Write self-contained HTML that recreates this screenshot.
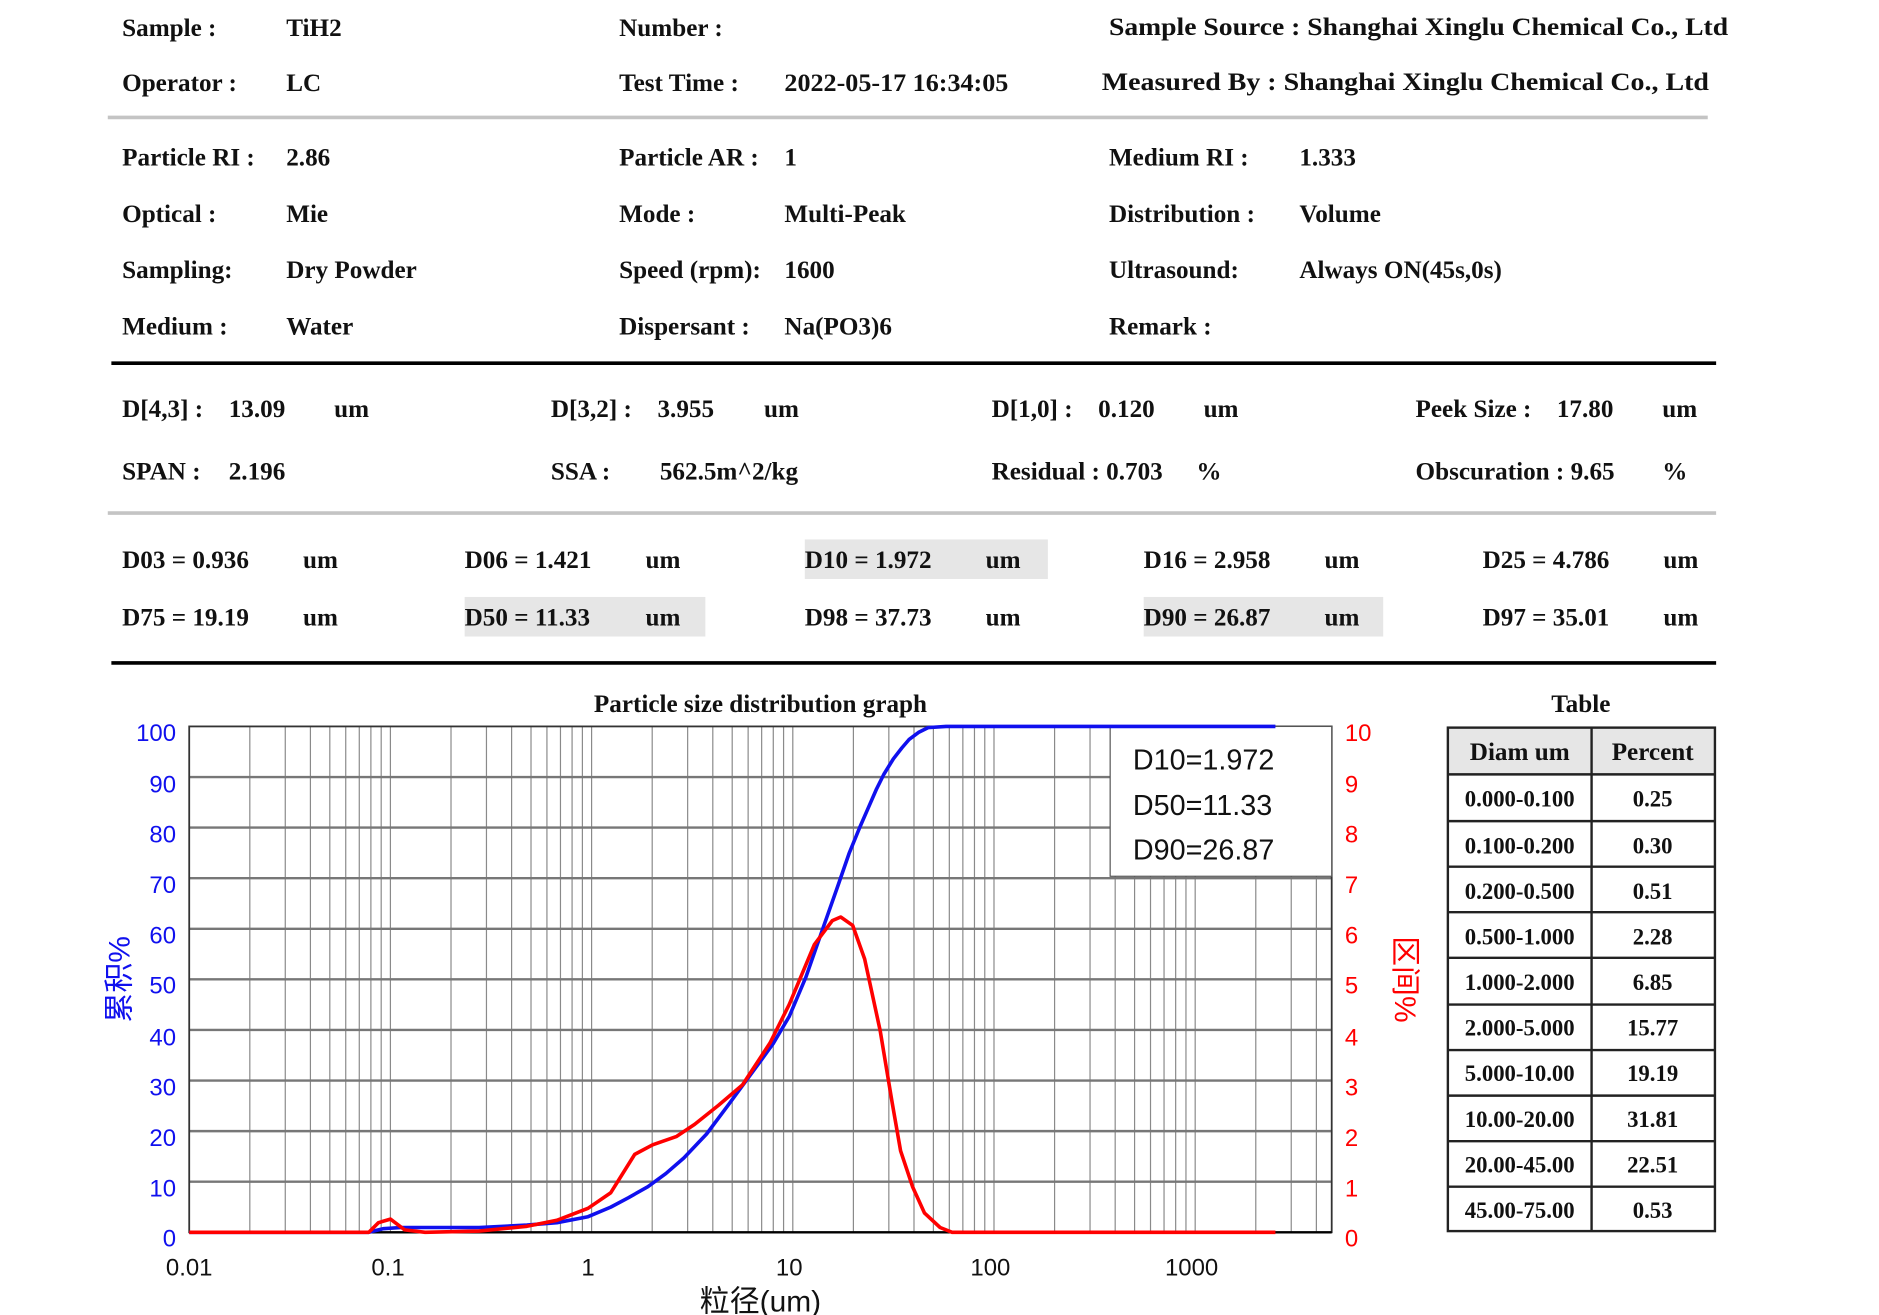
<!DOCTYPE html>
<html><head><meta charset="utf-8"><style>
html,body{margin:0;padding:0;background:#fff;}
svg{display:block;}
.t{font-family:"Liberation Serif","Noto Serif CJK SC",serif;font-weight:bold;font-size:21px;fill:#111;}
.a{font-family:"Liberation Sans","Noto Sans CJK SC",sans-serif;font-size:20px;}
</style></head><body>
<svg width="1879" height="1315" viewBox="0 0 1569 1097" preserveAspectRatio="none" xmlns="http://www.w3.org/2000/svg">
<rect width="1569" height="1097" fill="#fff"/>
<g class="t">
<text x="102" y="30">Sample :</text><text x="239" y="30">TiH2</text><text x="517" y="30">Number :</text>
<text x="926" y="29" textLength="517" lengthAdjust="spacingAndGlyphs">Sample Source : Shanghai Xinglu Chemical Co., Ltd</text>
<text x="102" y="76">Operator :</text><text x="239" y="76">LC</text><text x="517" y="76">Test Time :</text><text x="655" y="76" textLength="187" lengthAdjust="spacingAndGlyphs">2022-05-17   16:34:05</text>
<text x="920" y="75" textLength="507" lengthAdjust="spacingAndGlyphs">Measured By : Shanghai Xinglu Chemical Co., Ltd</text>
<text x="102" y="138">Particle RI :</text><text x="239" y="138">2.86</text><text x="517" y="138">Particle AR :</text><text x="655" y="138">1</text><text x="926" y="138">Medium RI :</text><text x="1085" y="138">1.333</text>
<text x="102" y="185">Optical :</text><text x="239" y="185">Mie</text><text x="517" y="185">Mode :</text><text x="655" y="185">Multi-Peak</text><text x="926" y="185">Distribution :</text><text x="1085" y="185">Volume</text>
<text x="102" y="232">Sampling:</text><text x="239" y="232">Dry Powder</text><text x="517" y="232">Speed (rpm):</text><text x="655" y="232">1600</text><text x="926" y="232">Ultrasound:</text><text x="1085" y="232">Always ON(45s,0s)</text>
<text x="102" y="279">Medium :</text><text x="239" y="279">Water</text><text x="517" y="279">Dispersant :</text><text x="655" y="279">Na(PO3)6</text><text x="926" y="279">Remark :</text>
</g>
<line x1="90" y1="98" x2="1426" y2="98" stroke="#c4c4c4" stroke-width="3"/>
<line x1="93" y1="303" x2="1433" y2="303" stroke="#000" stroke-width="3"/>
<rect x="672" y="450" width="203" height="33" fill="#e6e6e6"/>
<rect x="388" y="498" width="201" height="33" fill="#e6e6e6"/>
<rect x="955" y="498" width="200" height="33" fill="#e6e6e6"/>
<g class="t">
<text x="102" y="348">D[4,3] :</text><text x="191" y="348">13.09</text><text x="279" y="348">um</text>
<text x="460" y="348">D[3,2] :</text><text x="549" y="348">3.955</text><text x="638" y="348">um</text>
<text x="828" y="348">D[1,0] :</text><text x="917" y="348">0.120</text><text x="1005" y="348">um</text>
<text x="1182" y="348">Peek Size :</text><text x="1300" y="348">17.80</text><text x="1388" y="348">um</text>
<text x="102" y="400">SPAN :</text><text x="191" y="400">2.196</text>
<text x="460" y="400">SSA :</text><text x="551" y="400">562.5m^2/kg</text>
<text x="828" y="400">Residual : 0.703</text><text x="999" y="400">%</text>
<text x="1182" y="400">Obscuration : 9.65</text><text x="1388" y="400">%</text>
<text x="102" y="474">D03 = 0.936</text><text x="253" y="474">um</text>
<text x="388" y="474">D06 = 1.421</text><text x="539" y="474">um</text>
<text x="672" y="474">D10 = 1.972</text><text x="823" y="474">um</text>
<text x="955" y="474">D16 = 2.958</text><text x="1106" y="474">um</text>
<text x="1238" y="474">D25 = 4.786</text><text x="1389" y="474">um</text>
<text x="102" y="522">D75 = 19.19</text><text x="253" y="522">um</text>
<text x="388" y="522">D50 = 11.33</text><text x="539" y="522">um</text>
<text x="672" y="522">D98 = 37.73</text><text x="823" y="522">um</text>
<text x="955" y="522">D90 = 26.87</text><text x="1106" y="522">um</text>
<text x="1238" y="522">D97 = 35.01</text><text x="1389" y="522">um</text>
<text x="635" y="594" text-anchor="middle">Particle size distribution graph</text>
<text x="1320" y="594" text-anchor="middle">Table</text>
</g>
<line x1="90" y1="428" x2="1433" y2="428" stroke="#c4c4c4" stroke-width="3"/>
<line x1="93" y1="553" x2="1433" y2="553" stroke="#000" stroke-width="3"/>
<g stroke="#8a8a8a" stroke-width="1">
<line x1="208.6" y1="606" x2="208.6" y2="1028"/><line x1="238.2" y1="606" x2="238.2" y2="1028"/><line x1="259.2" y1="606" x2="259.2" y2="1028"/><line x1="275.4" y1="606" x2="275.4" y2="1028"/><line x1="288.7" y1="606" x2="288.7" y2="1028"/><line x1="300" y1="606" x2="300" y2="1028"/><line x1="309.7" y1="606" x2="309.7" y2="1028"/><line x1="318.3" y1="606" x2="318.3" y2="1028"/><line x1="326" y1="606" x2="326" y2="1028"/>
<line x1="376.6" y1="606" x2="376.6" y2="1028"/><line x1="406.2" y1="606" x2="406.2" y2="1028"/><line x1="427.2" y1="606" x2="427.2" y2="1028"/><line x1="443.4" y1="606" x2="443.4" y2="1028"/><line x1="456.7" y1="606" x2="456.7" y2="1028"/><line x1="468" y1="606" x2="468" y2="1028"/><line x1="477.7" y1="606" x2="477.7" y2="1028"/><line x1="486.3" y1="606" x2="486.3" y2="1028"/><line x1="494" y1="606" x2="494" y2="1028"/>
<line x1="544.6" y1="606" x2="544.6" y2="1028"/><line x1="574.2" y1="606" x2="574.2" y2="1028"/><line x1="595.2" y1="606" x2="595.2" y2="1028"/><line x1="611.4" y1="606" x2="611.4" y2="1028"/><line x1="624.7" y1="606" x2="624.7" y2="1028"/><line x1="636" y1="606" x2="636" y2="1028"/><line x1="645.7" y1="606" x2="645.7" y2="1028"/><line x1="654.3" y1="606" x2="654.3" y2="1028"/><line x1="662" y1="606" x2="662" y2="1028"/>
<line x1="712.6" y1="606" x2="712.6" y2="1028"/><line x1="742.2" y1="606" x2="742.2" y2="1028"/><line x1="763.2" y1="606" x2="763.2" y2="1028"/><line x1="779.4" y1="606" x2="779.4" y2="1028"/><line x1="792.7" y1="606" x2="792.7" y2="1028"/><line x1="804" y1="606" x2="804" y2="1028"/><line x1="813.7" y1="606" x2="813.7" y2="1028"/><line x1="822.3" y1="606" x2="822.3" y2="1028"/><line x1="830" y1="606" x2="830" y2="1028"/>
<line x1="880.6" y1="606" x2="880.6" y2="1028"/><line x1="910.2" y1="606" x2="910.2" y2="1028"/><line x1="931.2" y1="606" x2="931.2" y2="1028"/><line x1="947.4" y1="606" x2="947.4" y2="1028"/><line x1="960.7" y1="606" x2="960.7" y2="1028"/><line x1="972" y1="606" x2="972" y2="1028"/><line x1="981.7" y1="606" x2="981.7" y2="1028"/><line x1="990.3" y1="606" x2="990.3" y2="1028"/><line x1="998" y1="606" x2="998" y2="1028"/>
<line x1="1048.6" y1="606" x2="1048.6" y2="1028"/><line x1="1078.2" y1="606" x2="1078.2" y2="1028"/><line x1="1099.2" y1="606" x2="1099.2" y2="1028"/>
</g>
<g stroke="#777" stroke-width="2">
<line x1="158" y1="648.2" x2="1112" y2="648.2"/><line x1="158" y1="690.4" x2="1112" y2="690.4"/><line x1="158" y1="732.6" x2="1112" y2="732.6"/><line x1="158" y1="774.8" x2="1112" y2="774.8"/><line x1="158" y1="817" x2="1112" y2="817"/><line x1="158" y1="859.2" x2="1112" y2="859.2"/><line x1="158" y1="901.4" x2="1112" y2="901.4"/><line x1="158" y1="943.6" x2="1112" y2="943.6"/><line x1="158" y1="985.8" x2="1112" y2="985.8"/>
</g>
<rect x="158" y="606" width="954" height="422" fill="none" stroke="#333" stroke-width="1.5"/>
<line x1="158" y1="1028" x2="1112" y2="1028" stroke="#000" stroke-width="2"/>
<rect x="927" y="606" width="185" height="125" fill="#fff" stroke="#555" stroke-width="1"/>
<g class="a" style="font-size:24px" fill="#111">
<text x="946" y="642">D10=1.972</text><text x="946" y="680">D50=11.33</text><text x="946" y="717">D90=26.87</text>
</g>
<path d="M158,1028 L308,1028 L320,1025 L335,1024 L400,1024 L440,1022 L465,1020 L491,1015 L510,1007 L525,999 L541,990 L556,979 L571,966 L590,946 L608,922 L633,888 L646,870 L659,848 L673,815 L688,772 L700,738 L709,712 L718,690 L725,674 L732,658 L738,646 L746,633 L753,624 L759,617 L767,611 L775,607 L790,606 L1065,606" fill="none" stroke="#1010ee" stroke-width="3" stroke-linejoin="round"/>
<path d="M158,1028 L308,1028 L316,1020 L326,1017 L338,1026 L355,1028 L400,1027 L440,1023 L465,1018 L491,1008 L510,995 L530,963 L545,955 L565,948 L580,938 L600,922 L620,905 L643,870 L659,838 L680,788 L695,768 L702,765 L712,772 L722,800 L735,860 L745,920 L752,960 L762,990 L772,1012 L785,1024 L795,1028 L1065,1028" fill="none" stroke="#f00" stroke-width="3" stroke-linejoin="round"/>
<g class="a" fill="#1010ee" text-anchor="end">
<text x="147" y="618">100</text><text x="147" y="661">90</text><text x="147" y="703">80</text><text x="147" y="745">70</text><text x="147" y="787">60</text><text x="147" y="829">50</text><text x="147" y="872">40</text><text x="147" y="914">30</text><text x="147" y="956">20</text><text x="147" y="998">10</text><text x="147" y="1040">0</text>
</g>
<g class="a" fill="#f00">
<text x="1123" y="618">10</text><text x="1123" y="661">9</text><text x="1123" y="703">8</text><text x="1123" y="745">7</text><text x="1123" y="787">6</text><text x="1123" y="829">5</text><text x="1123" y="872">4</text><text x="1123" y="914">3</text><text x="1123" y="956">2</text><text x="1123" y="998">1</text><text x="1123" y="1040">0</text>
</g>
<g class="a" fill="#111" text-anchor="middle">
<text x="158" y="1064">0.01</text><text x="324" y="1064">0.1</text><text x="491" y="1064">1</text><text x="659" y="1064">10</text><text x="827" y="1064">100</text><text x="995" y="1064">1000</text>
<text x="635" y="1094" style="font-size:25px">粒径(um)</text>
</g>
<text class="a" x="0" y="0" fill="#1010ee" text-anchor="middle" style="font-size:25px" transform="translate(108,817) rotate(-90)">累积%</text>
<text class="a" x="0" y="0" fill="#f00" text-anchor="middle" style="font-size:25px" transform="translate(1165,817) rotate(90)">区间%</text>
<rect x="1209" y="607" width="223" height="39" fill="#e6e6e6"/>
<g stroke="#222" stroke-width="2" fill="none">
<rect x="1209" y="607" width="223" height="420"/>
<line x1="1329" y1="607" x2="1329" y2="1027"/>
<line x1="1209" y1="646" x2="1432" y2="646"/><line x1="1209" y1="685" x2="1432" y2="685"/><line x1="1209" y1="723" x2="1432" y2="723"/><line x1="1209" y1="761" x2="1432" y2="761"/><line x1="1209" y1="799" x2="1432" y2="799"/><line x1="1209" y1="838" x2="1432" y2="838"/><line x1="1209" y1="876" x2="1432" y2="876"/><line x1="1209" y1="914" x2="1432" y2="914"/><line x1="1209" y1="952" x2="1432" y2="952"/><line x1="1209" y1="990" x2="1432" y2="990"/>
</g>
<g class="t" text-anchor="middle" style="font-size:19px">
<text x="1269" y="634" style="font-size:21px">Diam um</text><text x="1380" y="634" style="font-size:21px">Percent</text>
<text x="1269" y="673">0.000-0.100</text><text x="1380" y="673">0.25</text>
<text x="1269" y="712">0.100-0.200</text><text x="1380" y="712">0.30</text>
<text x="1269" y="750">0.200-0.500</text><text x="1380" y="750">0.51</text>
<text x="1269" y="788">0.500-1.000</text><text x="1380" y="788">2.28</text>
<text x="1269" y="826">1.000-2.000</text><text x="1380" y="826">6.85</text>
<text x="1269" y="864">2.000-5.000</text><text x="1380" y="864">15.77</text>
<text x="1269" y="902">5.000-10.00</text><text x="1380" y="902">19.19</text>
<text x="1269" y="940">10.00-20.00</text><text x="1380" y="940">31.81</text>
<text x="1269" y="978">20.00-45.00</text><text x="1380" y="978">22.51</text>
<text x="1269" y="1016">45.00-75.00</text><text x="1380" y="1016">0.53</text>
</g>
</svg>
</body></html>
